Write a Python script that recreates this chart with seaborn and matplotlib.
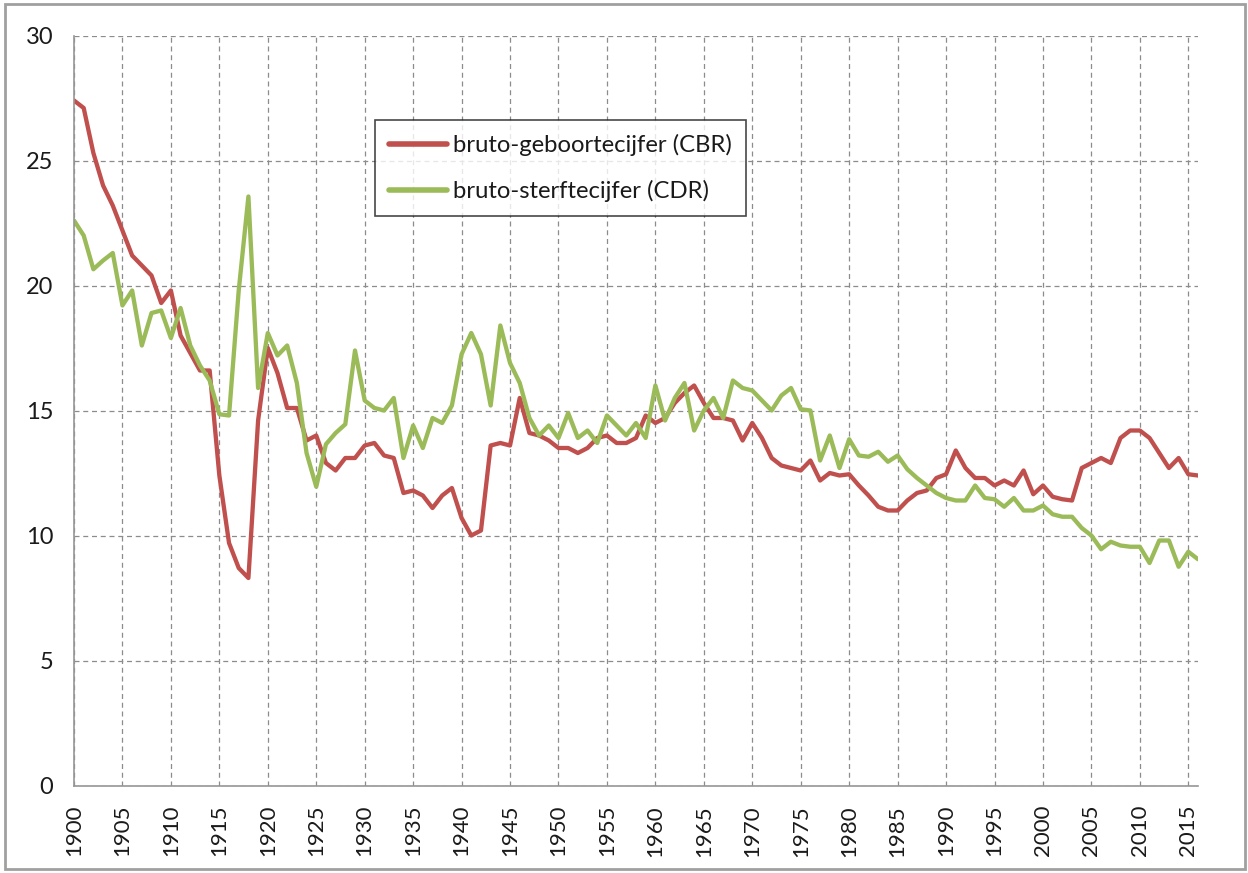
import matplotlib
matplotlib.use("Agg")
import matplotlib.pyplot as plt
import seaborn as sns
import pandas as pd
from matplotlib.patches import Rectangle

years = list(range(1900, 2017))

cbr = [27.4, 27.1, 25.3, 24.0, 23.2, 22.2, 21.2, 20.8, 20.4, 19.3,
       19.8, 18.0, 17.3, 16.6, 16.6, 12.4, 9.7, 8.7, 8.3, 14.6,
       17.5, 16.5, 15.1, 15.1, 13.8, 14.0, 12.9, 12.6, 13.1, 13.1,
       13.6, 13.7, 13.2, 13.1, 11.7, 11.8, 11.6, 11.1, 11.6, 11.9,
       10.7, 10.0, 10.2, 13.6, 13.7, 13.6, 15.5, 14.1, 14.0, 13.8,
       13.5, 13.5, 13.3, 13.5, 13.9, 14.0, 13.7, 13.7, 13.9, 14.8,
       14.5, 14.7, 15.3, 15.7, 16.0, 15.3, 14.7, 14.7, 14.6, 13.8,
       14.5, 13.9, 13.1, 12.8, 12.7, 12.6, 13.0, 12.2, 12.5, 12.4,
       12.45, 12.0, 11.6, 11.15, 11.0, 11.0, 11.4, 11.7, 11.8, 12.3,
       12.45, 13.4, 12.7, 12.3, 12.3, 12.0, 12.2, 12.0, 12.6, 11.65,
       12.0, 11.55, 11.45, 11.4, 12.7, 12.9, 13.1, 12.9, 13.9, 14.2,
       14.2, 13.9, 13.3, 12.7, 13.1, 12.45, 12.4]

cdr = [22.6, 22.0, 20.65, 21.0, 21.3, 19.2, 19.8, 17.6, 18.9, 19.0,
       17.9, 19.1, 17.6, 16.8, 16.2, 14.85, 14.8, 19.8, 23.56, 15.9,
       18.1, 17.2, 17.6, 16.1, 13.3, 11.95, 13.65, 14.1, 14.45, 17.4,
       15.4, 15.1, 15.0, 15.5, 13.1, 14.4, 13.5, 14.7, 14.5, 15.2,
       17.25, 18.1, 17.25, 15.2, 18.4, 16.9, 16.1, 14.7, 14.0, 14.4,
       13.9, 14.9, 13.9, 14.2, 13.7, 14.8, 14.4, 14.0, 14.5, 13.9,
       16.0, 14.6, 15.5, 16.1, 14.2, 15.0, 15.5, 14.7, 16.2, 15.9,
       15.8, 15.4, 15.0, 15.6, 15.9, 15.05, 15.0, 13.0, 14.0, 12.7,
       13.85, 13.2, 13.15, 13.35, 12.95, 13.2, 12.65, 12.3, 12.0, 11.7,
       11.5, 11.4, 11.4, 12.0, 11.5, 11.45, 11.15, 11.5, 11.0, 11.0,
       11.2, 10.85, 10.75, 10.75, 10.3, 10.0, 9.45, 9.75, 9.6, 9.55,
       9.55, 8.9, 9.8, 9.8, 8.75, 9.35, 9.05]

series_names = ["bruto-geboortecijfer (CBR)", "bruto-sterftecijfer (CDR)"]
series_colors = ["#C0504D", "#9BBB59"]
x_ticks = list(range(1900, 2016, 5))
y_ticks = [0, 5, 10, 15, 20, 25, 30]

assert len(cbr) == len(years) and len(cdr) == len(years)

df = pd.DataFrame({
    "jaar": years * 2,
    "waarde": cbr + cdr,
    "reeks": [series_names[0]] * len(years) + [series_names[1]] * len(years),
})

sns.set_style("white")
plt.rcParams["font.family"] = ["Lato", "DejaVu Sans"]

fig = plt.figure(figsize=(12.48, 8.73), dpi=100)
ax = fig.add_axes([74 / 1248, 1 - 785.5 / 873, (1198 - 74) / 1248, (785.5 - 35.5) / 873])

sns.lineplot(data=df, x="jaar", y="waarde", hue="reeks", hue_order=series_names,
             palette=series_colors, linewidth=3.1, ax=ax, legend=True)

ax.set_xlim(1900, 2016)
ax.set_ylim(0, 30)
ax.set_xticks(x_ticks)
ax.set_xticklabels([str(t) for t in x_ticks], rotation=90)
ax.set_yticks(y_ticks)
ax.set_yticklabels([str(t) for t in y_ticks])
ax.set_xlabel("")
ax.set_ylabel("")

grid_col = "#8C8C8C"
ax.grid(True, which="major", axis="both", color=grid_col, linestyle=(0, (4, 3)), linewidth=0.9)
ax.set_axisbelow(True)
for side in ["top", "right"]:
    ax.spines[side].set_visible(False)
for side in ["left", "bottom"]:
    ax.spines[side].set_color("#969696")
    ax.spines[side].set_linewidth(1.2)
ax.tick_params(axis="both", which="major", direction="out", length=7, width=1,
               color="#969696", labelcolor="#1a1a1a")
ax.tick_params(axis="y", pad=8, labelsize=17)
ax.tick_params(axis="x", pad=7, labelsize=16)

handles, labels = ax.get_legend_handles_labels()
leg = ax.legend(handles, labels, loc="upper left", bbox_to_anchor=(375 / 1248, 1 - 120 / 873),
                bbox_transform=fig.transFigure, frameon=True, fancybox=False,
                fontsize=17.2, handlelength=2.4, handletextpad=0.25, labelspacing=0.98,
                borderpad=0.6, borderaxespad=0)
leg.get_frame().set_edgecolor("#1a1a1a")
leg.get_frame().set_linewidth(1.2)
for line in leg.get_lines():
    line.set_linewidth(4)
for t in leg.get_texts():
    t.set_color("#1a1a1a")

fig.patches.append(Rectangle((5 / 1248, 4 / 873), 1240 / 1248, 865 / 873,
                             transform=fig.transFigure, fill=False,
                             edgecolor="#A0A0A0", linewidth=2))

fig.savefig("out.png", dpi=100)
